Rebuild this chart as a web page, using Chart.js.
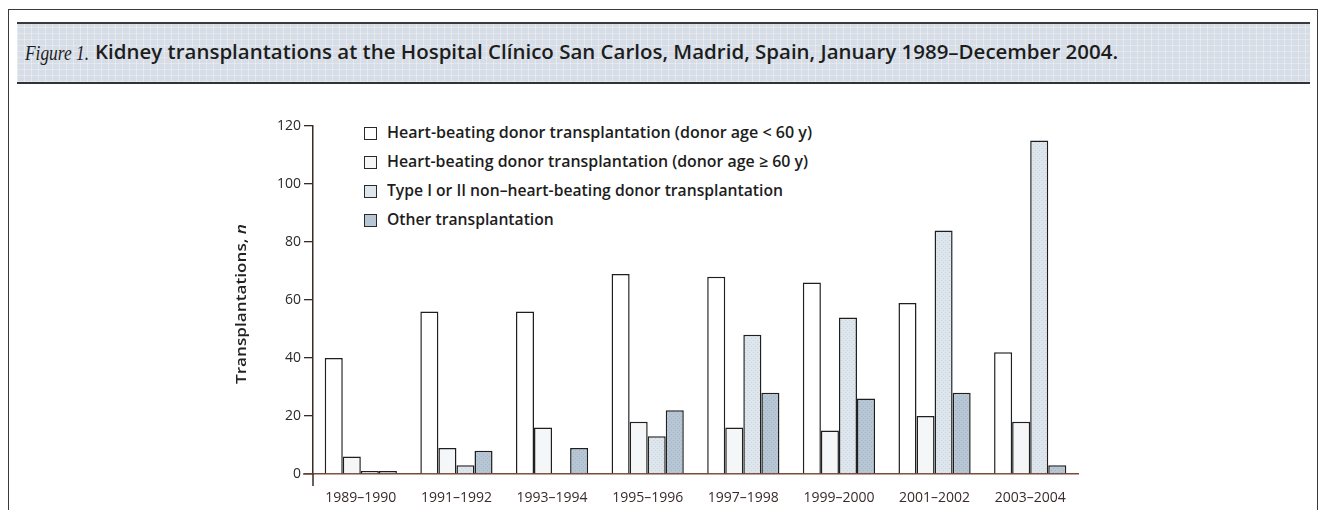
<!DOCTYPE html>
<html>
<head>
<meta charset="utf-8">
<script src="https://cdn.jsdelivr.net/npm/chart.js@4.4.1/dist/chart.umd.min.js"></script>
<style>
  html, body { margin:0; padding:0; background:#fff; }
  #wrap { position:relative; width:1323px; height:510px; overflow:hidden; background:#fff; }
  #frame { position:absolute; left:8px; top:9px; width:1310px; height:520px; border:1.5px solid #3a3a3a; box-sizing:border-box; }
  #titlebar { position:absolute; left:17px; top:22px; width:1293px; height:62px; box-sizing:border-box;
    border-top:2px solid #3a3a3a; border-bottom:2px solid #333;
    background-color:#d6dde6;
    background-image:
      repeating-linear-gradient(90deg, rgba(255,255,255,0.35) 0 1px, transparent 1px 7px),
      repeating-linear-gradient(0deg, rgba(255,255,255,0.30) 0 1px, transparent 1px 6px); }
  .fit { position:absolute; white-space:nowrap; transform-origin:0 50%; line-height:1; }
  #fig { left:25px; top:43px; font-family:"Liberation Serif", serif; font-style:italic; font-size:20px; color:#1d1d1d; }
  #title { left:95px; top:42px; font-family:"Open Sans", sans-serif; font-weight:600; font-size:20px; color:#1d1d1d; }
  .leg { position:absolute; left:364px; height:14px; }
  .leg .box { position:absolute; left:0; top:0; width:11px; height:11px; border:1.5px solid #2a2a2a; }
  .leg .txt { position:absolute; left:23px; top:-3px; white-space:nowrap; transform-origin:0 50%; font-family:"Open Sans", sans-serif; font-weight:600; font-size:16px; line-height:1; color:#1d1d1d; }
  canvas { position:absolute; left:0; top:0; }
</style>
</head>
<body>
<div id="wrap">
  <div id="frame"></div>
  <div id="titlebar"></div>
  <div id="fig" class="fit">Figure 1.</div>
  <div id="title" class="fit">Kidney transplantations at the Hospital Clínico San Carlos, Madrid, Spain, January 1989–December 2004.</div>
  <div id="legend"></div>
  <canvas id="c" width="1323" height="510"></canvas>
</div>
<script>
// ---- data ----
const categories = ['1989–1990','1991–1992','1993–1994','1995–1996','1997–1998','1999–2000','2001–2002','2003–2004'];
const under60 = [40, 56, 56, 69, 68, 66, 59, 42];
const over60  = [6, 9, 16, 18, 16, 15, 20, 18];
const nhbd    = [1, 3, 0, 13, 48, 54, 84, 115];
const other   = [1, 8, 9, 22, 28, 26, 28, 3];
const yTicks  = [0, 20, 40, 60, 80, 100, 120];
const seriesNames = [
  'Heart-beating donor transplantation (donor age < 60 y)',
  'Heart-beating donor transplantation (donor age ≥ 60 y)',
  'Type I or II non–heart-beating donor transplantation',
  'Other transplantation'
];
const yTitle = 'Transplantations, ';
const yTitleItalic = 'n';

// ---- styles ----
function stipple(base, dot) {
  const c = document.createElement('canvas'); c.width = 4; c.height = 4;
  const g = c.getContext('2d');
  g.fillStyle = base; g.fillRect(0,0,4,4);
  g.fillStyle = dot; g.fillRect(1,0,1,1); g.fillRect(3,2,1,1);
  return g.createPattern(c, 'repeat');
}
const ctx = document.getElementById('c').getContext('2d');
const fills = ['#ffffff', '#f4f6f8', stipple('#dde5ed', '#c9d4df'), stipple('#b6c6d4', '#a3b5c5')];
const swatch = ['#ffffff', '#f4f6f8', '#dde5ed', '#b6c6d4'];

// legend (HTML)
const legTops = [127, 156, 185, 214];
const legend = document.getElementById('legend');
seriesNames.forEach((n, i) => {
  const d = document.createElement('div'); d.className = 'leg'; d.style.top = legTops[i] + 'px';
  d.innerHTML = '<div class="box" style="background:' + swatch[i] + '"></div><div class="txt"></div>';
  d.querySelector('.txt').textContent = n;
  legend.appendChild(d);
});
function fitTo(el, w) {
  const r = el.getBoundingClientRect().width;
  el.style.transform = 'scaleX(' + (w / r) + ')';
}
fitTo(document.getElementById('fig'), 64);
fitTo(document.getElementById('title'), 1023);
const txts = document.querySelectorAll('.leg .txt');
fitTo(txts[0], 425); fitTo(txts[1], 421); fitTo(txts[2], 396);
txts[3].style.transform = txts[2].style.transform;

const extras = {
  id: 'extras',
  afterDraw(chart) {
    const a = chart.chartArea, g = chart.ctx;
    g.save();
    g.strokeStyle = '#7a4a3a'; g.lineWidth = 1.5;
    g.beginPath(); g.moveTo(a.left - 10, a.bottom); g.lineTo(a.left, a.bottom); g.stroke();
    g.strokeStyle = '#3b2a22';
    g.beginPath(); g.moveTo(a.left, a.bottom); g.lineTo(a.left, a.bottom + 12); g.stroke();
    g.translate(242, (a.top + a.bottom) / 2 + 4);
    g.rotate(-Math.PI / 2);
    g.fillStyle = '#222';
    g.font = '600 15px "Open Sans"';
    const w1 = g.measureText(yTitle).width;
    g.font = 'italic 600 15px "Open Sans"';
    const w2 = g.measureText(yTitleItalic).width;
    const sx = 160 / (w1 + w2);
    g.scale(sx, 1);
    const x0 = -(w1 + w2) / 2;
    g.textBaseline = 'middle';
    g.font = '600 15px "Open Sans"';
    g.fillText(yTitle, x0, 0);
    g.font = 'italic 600 15px "Open Sans"';
    g.fillText(yTitleItalic, x0 + w1, 0);
    g.restore();
  }
};

const datasets = [under60, over60, nhbd, other].map((d, i) => ({
  label: seriesNames[i],
  data: d,
  backgroundColor: fills[i],
  borderColor: '#1f1f1f',
  borderWidth: 1.5,
  borderSkipped: 'bottom',
  categoryPercentage: 0.755,
  barPercentage: 1.0
}));

new Chart(ctx, {
  type: 'bar',
  data: { labels: categories, datasets },
  options: {
    responsive: false,
    animation: false,
    devicePixelRatio: 1,
    layout: { padding: { left: 253, right: 245, top: 126, bottom: 6 } },
    plugins: { legend: { display: false }, tooltip: { enabled: false }, title: { display: false } },
    scales: {
      x: {
        grid: { display: false, drawTicks: false },
        border: { display: true, color: '#7a4a3a', width: 1.5 },
        ticks: { padding: 16, color: '#3b2a2a', font: { family: 'Open Sans', size: 14 }, maxRotation: 0 },
        afterFit(s) { s.height = 30; }
      },
      y: {
        min: 0, max: 120,
        afterBuildTicks(s) { s.ticks = yTicks.map(v => ({ value: v })); },
        grid: { drawOnChartArea: false, drawTicks: true, tickLength: 9, color: '#3b2a22', lineWidth: 1.3 },
        border: { display: true, color: '#3b2a22', width: 1.5 },
        ticks: { padding: 3, color: '#2a2a2a', font: { family: 'Open Sans', size: 14 } },
        afterFit(s) { s.width = 60; }
      }
    }
  },
  plugins: [extras]
});
</script>
</body>
</html>
